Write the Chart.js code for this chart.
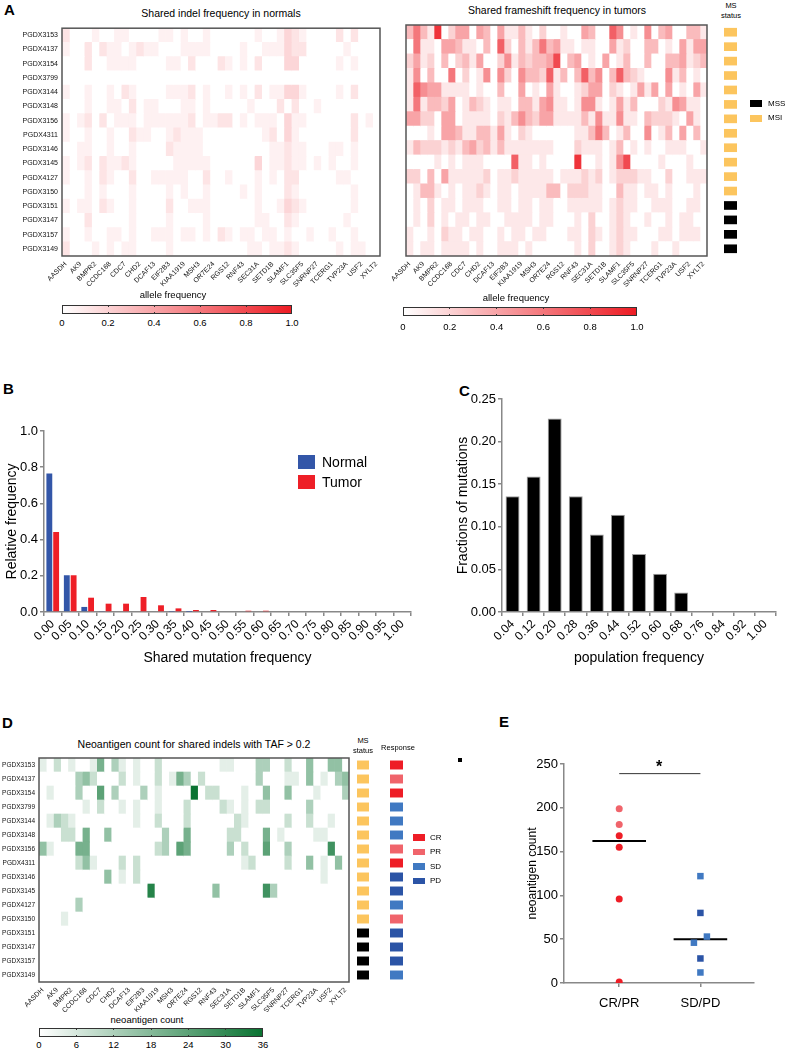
<!DOCTYPE html>
<html>
<head>
<meta charset="utf-8">
<script src="https://cdn.jsdelivr.net/npm/chart.js@4.4.0/dist/chart.umd.min.js"></script>
<style>
  body { margin: 0; background: #fff; font-family: "Liberation Sans", Arial, sans-serif; }
  #page { position: relative; width: 788px; height: 1050px; overflow: hidden; }
  canvas { position: absolute; }
  .t { position: absolute; white-space: nowrap; color: #000; line-height: 1; }
  .box { position: absolute; }
</style>
</head>
<body>
<div id="page"></div>
<script>
// --- data -----------------------------------------------------------------
const samples = ['PGDX3153', 'PGDX4137', 'PGDX3154', 'PGDX3799', 'PGDX3144', 'PGDX3148', 'PGDX3156', 'PGDX4311',
  'PGDX3146', 'PGDX3145', 'PGDX4127', 'PGDX3150', 'PGDX3151', 'PGDX3147', 'PGDX3157', 'PGDX3149'];
// labelled genes (every other column of the heatmaps carries a label)
const genes = ['AASDH', 'AK9', 'BMPR2', 'CCDC168', 'CDC7', 'CHD2', 'DCAF13', 'EIF2B3', 'KIAA1919', 'MSH3', 'OR7E24',
  'RGS12', 'RNF43', 'SEC31A', 'SETD1B', 'SLAMF1', 'SLC35F5', 'SNRNP27', 'TCERG1', 'TVP23A', 'USF2', 'XYLT2'];
const nCols = 43;

const msStatus = ['MSI', 'MSI', 'MSI', 'MSI', 'MSI', 'MSI', 'MSI', 'MSI', 'MSI', 'MSI', 'MSI', 'MSI', 'MSS', 'MSS', 'MSS', 'MSS'];
const response = ['CR', 'PR', 'CR', 'SD', 'SD', 'SD', 'PR', 'CR', 'PD', 'PD', 'SD', 'PR', 'PD', 'PD', 'PD', 'SD'];

// heatmap rows, one digit per gene column
// normals: digit x 0.06 allele frequency
const normalRows = [
  '2000100110000110100100' + '000010013210000202000',
  '1002021101211000111100' + '001001113220000010000',
  '0002001111000011020002' + '101020003300000101000',
  '0000000000000000000000' + '000000000000000000000',
  '1001001021000011120100' + '101020113310000102000',
  '0001001102011000110100' + '000100020200100000000',
  '1012020111011111120112' + '201011103110000002010',
  '1001001002110012111000' + '000001203100000002000',
  '0011001001000021111000' + '000000112110001101000',
  '1012021121000001111100' + '000030112110101001000',
  '1001021002001111100200' + '100010102200000110000',
  '0001010001000010100100' + '001010002100000001000',
  '1011021001000020011100' + '000010013210000001000',
  '0002000001000010000100' + '000011002100000010000',
  '1001001101001110110102' + '101101101001001001000',
  '2000101011000010000000' + '000110112100000101100'
];
// tumors: digit x 0.1 allele frequency
const tumorRows = [
  '363190244043041131020' + '0100430075010503400331',
  '061104431103072031363' + '4110110041200330104144',
  '241203023140025132334' + '8034010401300300334123',
  '150300602015052053327' + '1303735037321000513010',
  '175441111010030040104' + '1001244021014140401041',
  '161332401321011033145' + '1101551014130002154110',
  '442204401111021353244' + '1111315115110322210410',
  '000104431133141021000' + '0001136301300501304030',
  '132221213423131111111' + '0002111013010100111001',
  '000010101110000711010' + '0009001015800001000100',
  '220304111112011211111' + '0111212012221100200111',
  '013310101121011011113' + '3022211003110110100010',
  '010201101110011011011' + '0011111012110011100110',
  '010201011011001111011' + '0001020012100100101100',
  '100102110110010110110' + '0011021012110001101110',
  '101101111010011101000' + '0001020012100010010000'
];
// neoantigen counts: digit x 4
const neoRows = [
  '1020100150310100200000' + '000110003300200400440',
  '0000034200020100201530' + '200000003000110401034',
  '0100030060300030100009' + '022000100400400010003',
  '0000001020010100100020' + '000210102200000300000',
  '0132100000000100200020' + '000002100000200200100',
  '0002205004000000030050' + '000022000501000011000',
  '4100055000000000230650' + '000030200600300000700',
  '0000024100020200000000' + '000000120000200401040',
  '0000000004010200000000' + '000000000000000001000',
  '0000000000000008000000' + '004000000730000000000',
  '0000030000000000000000' + '000000000000000000000',
  '0001000000000000000000' + '000000000000000000000',
  '0000000000000000000000' + '000000000000000000000',
  '0000000000000000000000' + '000000000000000000000',
  '0000000000000000000000' + '000000000000000000000',
  '0000000000000000000000' + '000000000000000000000'
];

// panel B
const binLabels = ['0.00', '0.05', '0.10', '0.15', '0.20', '0.25', '0.30', '0.35', '0.40', '0.45', '0.50',
  '0.55', '0.60', '0.65', '0.70', '0.75', '0.80', '0.85', '0.90', '0.95', '1.00'];
const normalFreq = [0.765, 0.203, 0.028, 0.003, 0, 0, 0, 0.002, 0.001, 0, 0, 0, 0, 0, 0, 0, 0, 0, 0, 0, 0];
const tumorFreq = [0.442, 0.203, 0.079, 0.046, 0.046, 0.083, 0.037, 0.020, 0.011, 0.011, 0, 0.007, 0.007, 0, 0, 0, 0, 0, 0, 0, 0];

// panel C
const popLabels = ['0.04', '0.12', '0.20', '0.28', '0.36', '0.44', '0.52', '0.60', '0.68', '0.76', '0.84', '0.92', '1.00'];
const popFrac = [0.136, 0.159, 0.227, 0.136, 0.091, 0.114, 0.068, 0.045, 0.023, 0, 0, 0, 0];

// panel E
const groups = ['CR/PR', 'SD/PD'];
const crprCount = [199, 181, 168, 155, 96, 1];
const crprResp = ['PR', 'PR', 'CR', 'CR', 'CR', 'CR'];
const sdpdCount = [122, 80, 53, 46, 28, 12];
const sdpdResp = ['SD', 'PD', 'SD', 'SD', 'PD', 'SD'];
const sdpdJitter = [0, 0, 0.08, -0.08, 0, 0];
const medians = [162, 50];
const sigLevel = 239;

// --- helpers ----------------------------------------------------------------
const page = document.getElementById('page');
const FONT = '"Liberation Sans", Arial, sans-serif';
Chart.defaults.font.family = FONT;
Chart.defaults.color = '#000';
Chart.defaults.animation = false;

const respColor = { CR: '#ee1d26', PR: '#f0646b', SD: '#4079c2', PD: '#2b54a6' };
const msColor = { MSI: '#fcc55e', MSS: '#000000' };

function mk(left, top, w, h) {
  const c = document.createElement('canvas');
  c.width = w; c.height = h;
  c.style.left = left + 'px'; c.style.top = top + 'px';
  page.appendChild(c);
  return c;
}
function txt(s, x, y, size, align, weight) {
  const d = document.createElement('div');
  d.className = 't';
  d.textContent = s;
  d.style.fontSize = size + 'px';
  d.style.left = x + 'px';
  d.style.top = y + 'px';
  d.style.fontWeight = weight || 'normal';
  const tx = align === 'left' ? '0' : align === 'right' ? '-100%' : '-50%';
  d.style.transform = 'translate(' + tx + ',-50%)';
  page.appendChild(d);
}
function rect(x, y, w, h, color) {
  const d = document.createElement('div');
  d.className = 'box';
  Object.assign(d.style, { left: x + 'px', top: y + 'px', width: w + 'px', height: h + 'px', background: color });
  page.appendChild(d);
}
const decode = (rows, unit) => rows.map(s => Array.from({ length: nCols }, (_, c) => (+(s[c] || 0)) * unit));

const red = v => {
  v = Math.min(1, v);
  return 'rgb(' + Math.round(255 - 18 * v) + ',' + Math.round(255 - 227 * v) + ',' + Math.round(255 - 219 * v) + ')';
};
const green = n => {
  const t = Math.min(1, n / 36);
  return 'rgb(' + Math.round(255 - 245 * t) + ',' + Math.round(255 - 140 * t) + ',' + Math.round(255 - 205 * t) + ')';
};

const boxPlugin = {
  id: 'box',
  afterDatasetsDraw(chart) {
    const { ctx, chartArea: a } = chart;
    ctx.save();
    ctx.strokeStyle = '#555';
    ctx.lineWidth = 1.5;
    ctx.strokeRect(a.left, a.top, a.right - a.left, a.bottom - a.top);
    ctx.restore();
  }
};

function heatmap(canvas, matrix, colorOf, showRows, padL, padT, yW, xH, rowFont) {
  const datasets = [];
  for (let c = 0; c < nCols; c++) {
    datasets.push({
      data: samples.map(() => [c, c + 1]),
      backgroundColor: samples.map((s, r) => colorOf(matrix[r][c])),
      borderWidth: 0,
      barPercentage: 1,
      categoryPercentage: 1,
      grouped: false
    });
  }
  return new Chart(canvas, {
    type: 'bar',
    data: { labels: samples, datasets },
    options: {
      indexAxis: 'y',
      responsive: false,
      layout: { padding: { left: padL, right: 8, top: padT, bottom: 0 } },
      plugins: { legend: { display: false }, tooltip: { enabled: false } },
      scales: {
        x: {
          type: 'linear', min: 0, max: nCols,
          grid: { display: false, drawTicks: false }, border: { display: false },
          afterBuildTicks: s => { s.ticks = genes.map((g, i) => ({ value: 2 * i + 0.5 })); },
          ticks: { autoSkip: false, minRotation: 45, maxRotation: 45, padding: 4, color: '#111',
            font: { size: 7 }, callback: (v, i) => genes[i] },
          afterFit: s => { s.height = xH; }
        },
        y: {
          display: showRows,
          grid: { display: false, drawTicks: false }, border: { display: false },
          ticks: { font: { size: rowFont }, padding: 4, color: '#111' },
          afterFit: s => { s.width = yW; }
        }
      }
    },
    plugins: [boxPlugin]
  });
}

function statusCol(canvas, colors, pct) {
  return new Chart(canvas, {
    type: 'bar',
    data: { labels: samples, datasets: [{ data: samples.map(() => [0, 1]), backgroundColor: colors,
      borderWidth: 0, barPercentage: pct, categoryPercentage: 1 }] },
    options: {
      indexAxis: 'y', responsive: false,
      layout: { padding: 0 },
      plugins: { legend: { display: false }, tooltip: { enabled: false } },
      scales: { x: { display: false, min: 0, max: 1 }, y: { display: false } }
    }
  });
}

function colorbar(x, y, w, h, endColor, labels, title, titleY, labelY) {
  const d = document.createElement('div');
  d.className = 'box';
  Object.assign(d.style, { left: x + 'px', top: y + 'px', width: w + 'px', height: h + 'px',
    background: 'linear-gradient(to right, #fff, ' + endColor + ')', border: '1px solid #333', boxSizing: 'border-box' });
  page.appendChild(d);
  const n = labels.length - 1;
  labels.forEach((l, i) => {
    const px = x + w * i / n;
    if (i > 0 && i < n) {
      rect(px - 0.5, y, 1.2, 2, '#333');
      rect(px - 0.5, y + h - 2, 1.2, 2, '#333');
    }
    txt(l, px, labelY, 9.5);
  });
  txt(title, x + w / 2 - 4, titleY, 9.5);
}

// --- panel letters & titles --------------------------------------------------
txt('A', 4, 9, 15, 'left', 'bold');
txt('B', 3, 388, 15, 'left', 'bold');
txt('C', 459, 390, 15, 'left', 'bold');
txt('D', 2, 722, 15, 'left', 'bold');
txt('E', 499, 721, 15, 'left', 'bold');

txt('Shared indel frequency in normals', 221, 13, 10.5);
txt('Shared frameshift frequency in tumors', 557, 10, 10.5);
txt('Neoantigen count for shared indels with TAF > 0.2', 194, 744, 10.5);

// --- panel A ---------------------------------------------------------------
const normalAF = decode(normalRows, 0.06);
const tumorAF = decode(tumorRows, 0.1);
heatmap(mk(0, 20, 388, 270), normalAF, red, true, 0, 5, 62, 34, 7);
heatmap(mk(386, 20, 329, 270), tumorAF, red, false, 20, 5, 0, 34, 7);

txt('MS', 731, 6, 7.5);
txt('status', 731, 16, 7.5);
statusCol(mk(724, 25, 13, 231), msStatus.map(s => msColor[s]), 0.6);
rect(750, 100, 12, 7, msColor.MSS);
txt('MSS', 768, 104, 8, 'left');
rect(750, 115, 12, 7, msColor.MSI);
txt('MSI', 768, 118, 8, 'left');

colorbar(62, 305, 230, 9, 'rgb(237,28,36)', ['0', '0.2', '0.4', '0.6', '0.8', '1.0'], 'allele frequency', 295, 323);
colorbar(403, 307, 234, 9, 'rgb(237,28,36)', ['0', '0.2', '0.4', '0.6', '0.8', '1.0'], 'allele frequency', 298, 327);

// --- panel B ---------------------------------------------------------------
const axisGrid = { drawOnChartArea: false, drawTicks: true, tickLength: 4, color: '#888', lineWidth: 1.5 };
const axisBorder = { color: '#888', width: 1.5 };

new Chart(mk(0, 420, 420, 250), {
  type: 'bar',
  data: {
    labels: binLabels,
    datasets: [
      { label: 'Normal', data: normalFreq, backgroundColor: '#3356a8', borderWidth: 0 },
      { label: 'Tumor', data: tumorFreq, backgroundColor: '#ee1f27', borderWidth: 0 }
    ]
  },
  options: {
    responsive: false,
    layout: { padding: { top: 11, right: 9 } },
    datasets: { bar: { categoryPercentage: 0.78, barPercentage: 0.86 } },
    plugins: { legend: { display: false }, tooltip: { enabled: false } },
    scales: {
      x: {
        grid: axisGrid, border: axisBorder,
        ticks: { minRotation: 45, maxRotation: 45, autoSkip: false, padding: 1, font: { size: 12 } },
        title: { display: true, text: 'Shared mutation frequency', font: { size: 14 }, padding: { top: 0, bottom: 3 } },
        afterFit: s => { s.height = 58; }
      },
      y: {
        min: 0, max: 1,
        grid: axisGrid, border: axisBorder,
        ticks: { stepSize: 0.2, padding: 2, font: { size: 13 }, callback: v => v.toFixed(1) },
        title: { display: true, text: 'Relative frequency', font: { size: 14 }, padding: { top: 4, bottom: 0 } },
        afterFit: s => { s.width = 44; }
      }
    }
  }
});
rect(298, 455, 17, 14, '#3356a8');
txt('Normal', 322, 462, 14, 'left');
rect(298, 475, 17, 14, '#ee1f27');
txt('Tumor', 322, 482, 14, 'left');

// --- panel C ---------------------------------------------------------------
new Chart(mk(451, 380, 337, 290), {
  type: 'bar',
  data: {
    labels: popLabels,
    datasets: [{ data: popFrac, backgroundColor: '#000', borderColor: '#9a9a9a', borderWidth: 1,
      categoryPercentage: 1, barPercentage: 0.66 }]
  },
  options: {
    responsive: false,
    layout: { padding: { top: 19, right: 12 } },
    plugins: { legend: { display: false }, tooltip: { enabled: false } },
    scales: {
      x: {
        grid: axisGrid, border: axisBorder,
        ticks: { minRotation: 45, maxRotation: 45, autoSkip: false, padding: 1, font: { size: 12 } },
        title: { display: true, text: 'population frequency', font: { size: 14 }, padding: { top: 0, bottom: 3 } },
        afterFit: s => { s.height = 58; }
      },
      y: {
        min: 0, max: 0.25,
        grid: axisGrid, border: axisBorder,
        ticks: { stepSize: 0.05, padding: 2, font: { size: 13 }, callback: v => v.toFixed(2) },
        title: { display: true, text: 'Fractions of mutations', font: { size: 14 }, padding: { top: 4, bottom: 0 } },
        afterFit: s => { s.width = 51; }
      }
    }
  }
});

// --- panel D ---------------------------------------------------------------
const neoCount = decode(neoRows, 4);
heatmap(mk(0, 750, 357, 262), neoCount, green, true, 0, 8, 39, 30, 6.5);

txt('MS', 363, 741, 7.5);
txt('status', 363, 751, 7.5);
statusCol(mk(357, 758, 12, 224), msStatus.map(s => msColor[s]), 0.64);
txt('Response', 398, 748, 7.5);
statusCol(mk(390, 758, 13, 224), response.map(s => respColor[s]), 0.64);
rect(458, 758, 4, 4, '#000');

['CR', 'PR', 'SD', 'PD'].forEach((k, i) => {
  rect(413, 834 + i * 14.6, 12, 6.5, respColor[k]);
  txt(k, 430, 837.5 + i * 14.6, 8, 'left');
});

colorbar(39, 1028, 224, 9, 'rgb(10,115,50)', ['0', '6', '12', '18', '24', '30', '36'], 'neoantigen count', 1020, 1045);

// --- panel E ---------------------------------------------------------------
new Chart(mk(521, 740, 267, 275), {
  type: 'scatter',
  data: {
    datasets: [
      { data: crprCount.map(v => ({ x: 1, y: v })), pointStyle: 'circle', pointRadius: 3.5,
        pointBackgroundColor: crprResp.map(r => respColor[r]), pointBorderWidth: 0 },
      { data: sdpdCount.map((v, i) => ({ x: 2 + sdpdJitter[i], y: v })), pointStyle: 'rect', pointRadius: 4.6,
        pointBackgroundColor: sdpdResp.map(r => respColor[r]), pointBorderWidth: 0 },
      { data: [{ x: 0.67, y: medians[0] }, { x: 1.33, y: medians[0] }], showLine: true, borderColor: '#000',
        borderWidth: 2, pointRadius: 0 },
      { data: [{ x: 1.67, y: medians[1] }, { x: 2.33, y: medians[1] }], showLine: true, borderColor: '#000',
        borderWidth: 2, pointRadius: 0 },
      { data: [{ x: 1, y: sigLevel }, { x: 2, y: sigLevel }], showLine: true, borderColor: '#333',
        borderWidth: 1, pointRadius: 0 }
    ]
  },
  options: {
    responsive: false,
    layout: { padding: { top: 24, right: 34 } },
    plugins: { legend: { display: false }, tooltip: { enabled: false } },
    scales: {
      x: {
        type: 'linear', min: 0.32, max: 2.66,
        grid: axisGrid, border: axisBorder,
        afterBuildTicks: s => { s.ticks = groups.map((g, i) => ({ value: i + 1 })); },
        ticks: { padding: 9, font: { size: 13 }, callback: (v, i) => groups[i] },
        afterFit: s => { s.height = 32; }
      },
      y: {
        min: 0, max: 250,
        grid: axisGrid, border: axisBorder,
        ticks: { stepSize: 50, padding: 2, font: { size: 13 } },
        title: { display: true, text: 'neoantigen count', font: { size: 12 }, padding: { top: 4, bottom: 0 } },
        afterFit: s => { s.width = 43; }
      }
    }
  }
});
txt('*', 659, 767, 16, 'center', 'bold');
</script>
</body>
</html>
